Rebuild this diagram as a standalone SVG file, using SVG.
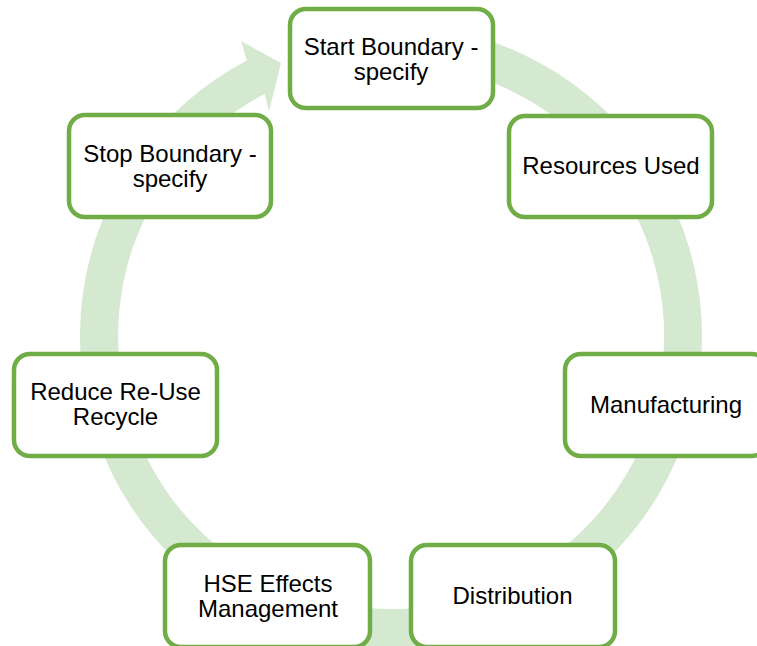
<svg xmlns="http://www.w3.org/2000/svg" width="757" height="646" viewBox="0 0 757 646">
  <style>
    .box { fill: #ffffff; stroke: #70ad47; stroke-width: 4.5; }
    .lbl { font-family: "Liberation Sans", Arial, sans-serif; font-size: 24px; fill: #000000; text-anchor: middle; }
    .ring { fill: #d5e9d1; stroke: none; }
  </style>
  <rect width="757" height="646" fill="#ffffff"/>

  <!-- circular flow arrow, clockwise, ending with a head at the first step -->
  <g id="connectors">
    <path class="ring" d="M418.1,26.2 A311,311 0 1 1 246.9,60.4 L241,41 L281,63 L269,111 L264.5,94.1 A273,273 0 1 0 414.8,64 Z"/>
  </g>

  <g id="start-boundary">
    <rect class="box" x="290" y="9" width="203" height="99" rx="16"/>
    <text class="lbl" x="391" y="55">Start Boundary -</text>
    <text class="lbl" x="391" y="80">specify</text>
  </g>

  <g id="resources-used">
    <rect class="box" x="509" y="116" width="203" height="101" rx="16"/>
    <text class="lbl" x="611" y="173.5">Resources Used</text>
  </g>

  <g id="manufacturing">
    <rect class="box" x="565" y="354" width="203" height="102" rx="16"/>
    <text class="lbl" x="666" y="413">Manufacturing</text>
  </g>

  <g id="distribution">
    <rect class="box" x="411" y="545" width="204" height="102" rx="16"/>
    <text class="lbl" x="512.5" y="604">Distribution</text>
  </g>

  <g id="hse-effects">
    <rect class="box" x="165" y="545" width="205" height="102" rx="16"/>
    <text class="lbl" x="268" y="591.5">HSE Effects</text>
    <text class="lbl" x="268" y="616.5">Management</text>
  </g>

  <g id="reduce-reuse-recycle">
    <rect class="box" x="14" y="354" width="203" height="102" rx="16"/>
    <text class="lbl" x="115.5" y="400">Reduce Re-Use</text>
    <text class="lbl" x="115.5" y="425">Recycle</text>
  </g>

  <g id="stop-boundary">
    <rect class="box" x="69" y="115" width="202" height="102" rx="16"/>
    <text class="lbl" x="170" y="162">Stop Boundary -</text>
    <text class="lbl" x="170" y="187">specify</text>
  </g>
</svg>
